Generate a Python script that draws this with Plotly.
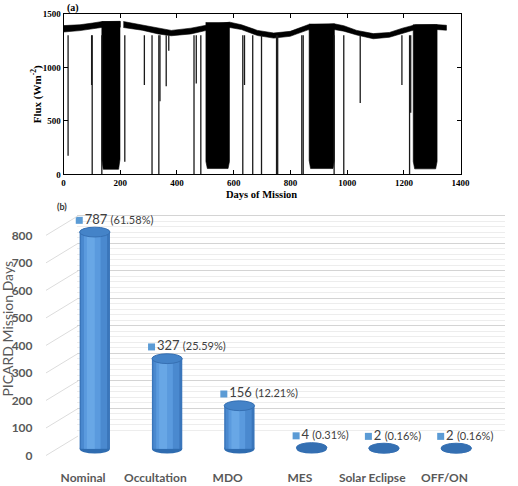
import plotly.graph_objects as go

W, H = 518, 486


def fx(p):
    return p / W


def fy(p):
    return 1 - p / H


# ---------------- Panel (a): flux during the mission ----------------
band1_days = [0, 58, 103, 133, 200]
band1_top = [1390, 1398, 1414, 1427, 1430]
band1_low = [1330, 1343, 1360, 1372, 1375]
band2_days = [211, 277, 334, 380, 449, 512, 586, 627, 684, 741, 799, 862, 914,
              954, 988, 1034, 1092, 1149, 1195, 1241, 1310, 1350]
band2_top = [1428, 1398, 1366, 1345, 1366, 1398, 1422, 1398, 1345, 1321, 1336, 1398,
             1403, 1407, 1389, 1345, 1315, 1326, 1366, 1398, 1400, 1393]
band2_low = [1372, 1347, 1312, 1295, 1312, 1350, 1372, 1353, 1297, 1273, 1290, 1350,
             1352, 1353, 1338, 1302, 1267, 1281, 1320, 1353, 1354, 1347]

season_start = [135, 502, 866, 1233]
season_end = [199, 585, 955, 1317]
season_top = [1430, 1422, 1407, 1400]
season_edge = [140, 120, 130, 120]
season_floor = [48, 55, 55, 52]
season_round = [5, 5, 5, 5]

spike_days = [16, 99, 101, 135, 216, 285, 312, 336, 340, 362, 371, 460, 468, 484,
              632, 638, 667, 698, 751, 755, 840, 845, 954, 988, 1046, 1193, 1220, 1224]
spike_min = [174, 835, 0, 0, 119, 835, 0, 0, 683, 823, 1156, 0, 850, 0,
             0, 835, 0, 0, 0, 0, 0, 0, 0, 0, 668, 835, 0, 576]
spike_top = 1300

# ---------------- Panel (b): mission days per mode ----------------
categories = ["Nominal", "Occultation", "MDO", "MES", "Solar Eclipse", "OFF/ON"]
mission_days = [787, 327, 156, 4, 2, 2]
percent = ["61.58%", "25.59%", "12.21%", "0.31%", "0.16%", "0.16%"]
y_ticks = [0, 100, 200, 300, 400, 500, 600, 700, 800]

fig = go.Figure()

# band (upper envelope) polygons
bx, by = [], []
for d, t, l in [(band1_days, band1_top, band1_low), (band2_days, band2_top, band2_low)]:
    bx += d + d[::-1] + [None]
    by += t + l[::-1] + [None]
fig.add_trace(go.Scatter(x=bx, y=by, mode="lines", fill="toself", fillcolor="black",
                         line=dict(color="black", width=0.6), xaxis="x", yaxis="y",
                         hoverinfo="skip", showlegend=False))

# occultation seasons
sx, sy = [], []
for s, e, t, ed, fl, r in zip(season_start, season_end, season_top, season_edge,
                              season_floor, season_round):
    sx += [s, s, s + r, e - r, e, e, None]
    sy += [t, ed, fl, fl, ed, t, None]
fig.add_trace(go.Scatter(x=sx, y=sy, mode="lines", fill="toself", fillcolor="black",
                         line=dict(color="black", width=0.6), xaxis="x", yaxis="y",
                         hoverinfo="skip", showlegend=False))

# spikes
kx, ky = [], []
for d, m in zip(spike_days, spike_min):
    kx += [d, d, None]
    ky += [spike_top, m, None]
fig.add_trace(go.Scatter(x=kx, y=ky, mode="lines", line=dict(color="#1a1a1a", width=1.3),
                         xaxis="x", yaxis="y", hoverinfo="skip", showlegend=False))

# ---- panel (b) geometry ----
PB_TOP, PB_BOT = 205, 470
PPU = 0.281           # px per mission-day unit
BAR_FLOOR, LABEL_FLOOR, WALL_FLOOR = 453, 460, 440
WALL_MAX = 805
ELL = 5 / PPU         # half height of cylinder ellipse (data units)
BW = 0.42             # cylinder width

# wall gridlines subplot (x2, y2) - invisible helper trace
fig.add_trace(go.Scatter(x=[0], y=[0], mode="markers", marker=dict(opacity=0),
                         xaxis="x2", yaxis="y2", hoverinfo="skip", showlegend=False))

# cylinders (x3, y3)
xs = list(range(len(categories)))
layers = [(-0.21, 0.42, "#3a76bb"), (-0.19, 0.36, "#4a89cf"),
          (-0.15, 0.23, "#5a9ade"), (-0.11, 0.11, "#68a7e6")]
for off, w, c in layers:
    fig.add_trace(go.Bar(x=xs, y=mission_days, base=0, offset=off, width=w,
                         marker=dict(color=c, line=dict(width=0)),
                         xaxis="x3", yaxis="y3", hoverinfo="skip", showlegend=False))

# value labels
fig.add_trace(go.Scatter(
    x=[i - 0.215 for i in xs], y=[v + 12 / PPU for v in mission_days],
    mode="markers+text",
    marker=dict(symbol="square", size=7, color="#5b9bd5"),
    text=[f"{v} <span style='font-size:11px'>({p})</span>" for v, p in zip(mission_days, percent)],
    textposition="middle right",
    textfont=dict(family="Lato", size=13, color="#404040"),
    cliponaxis=False, xaxis="x3", yaxis="y3", hoverinfo="skip", showlegend=False))

shapes = []
for i, v in zip(xs, mission_days):
    shapes.append(dict(type="circle", xref="x3", yref="y3", layer="below",
                       x0=i - BW / 2, x1=i + BW / 2, y0=-ELL, y1=ELL,
                       fillcolor="#2f6cb0", line=dict(width=0)))
    shapes.append(dict(type="circle", xref="x3", yref="y3", layer="above",
                       x0=i - BW / 2, x1=i + BW / 2, y0=v - ELL, y1=v + ELL,
                       fillcolor="#4483c8" if v > 20 else "#346fb2",
                       line=dict(color="#3670b3", width=1)))

# diagonal connectors of the 3D wall (x4, y4)
wall_shift = (LABEL_FLOOR - WALL_FLOOR) / PPU
dx, dy = [], []
for v in y_ticks:
    dx += [0, 1, None]
    dy += [v, v + wall_shift, None]
fig.add_trace(go.Scatter(x=dx, y=dy, mode="lines", line=dict(color="#dcdcdc", width=1),
                         xaxis="x4", yaxis="y4", hoverinfo="skip", showlegend=False))

# category axis helper (x5, y5)
fig.add_trace(go.Scatter(x=[0], y=[0], mode="markers", marker=dict(opacity=0),
                         xaxis="x5", yaxis="y5", hoverinfo="skip", showlegend=False))

serif = dict(family="Liberation Serif", size=9, color="black", weight="bold")
sans = dict(family="Lato", size=12, color="#595959", weight="bold")
hidden = dict(showgrid=False, zeroline=False, showline=False, showticklabels=False, ticks="")

fig.update_layout(
    width=W, height=H, margin=dict(l=0, r=0, t=0, b=0),
    paper_bgcolor="white", plot_bgcolor="rgba(0,0,0,0)",
    barmode="overlay", showlegend=False, shapes=shapes,
    xaxis=dict(domain=[fx(63), fx(469.5)], anchor="y", range=[0, 1400], tick0=0, dtick=200,
               ticks="inside", ticklen=4, tickcolor="black", showline=True, linecolor="black",
               linewidth=1, mirror="ticks", showgrid=False, zeroline=False, tickfont=serif),
    yaxis=dict(domain=[fy(173), fy(9)], anchor="x", range=[0, 1500], tick0=0, dtick=500,
               ticks="inside", ticklen=4, tickcolor="black", showline=True, linecolor="black",
               linewidth=1, mirror="ticks", showgrid=False, zeroline=False, tickfont=serif),
    xaxis2=dict(domain=[fx(77), fx(515)], anchor="y2", range=[0, 1], **hidden),
    yaxis2=dict(domain=[fy(WALL_FLOOR + 2 * PPU), fy(WALL_FLOOR - WALL_MAX * PPU)], anchor="x2",
                range=[-2, WALL_MAX], tick0=0, dtick=100, showgrid=True, gridcolor="#d4d4d4",
                gridwidth=1, zeroline=False, showline=False, showticklabels=False, ticks="",
                minor=dict(dtick=20, showgrid=True, gridcolor="#ededed", gridwidth=1)),
    xaxis3=dict(domain=[fx(58), fx(502)], anchor="y3", range=[-0.5, 5.5], **hidden),
    yaxis3=dict(domain=[fy(PB_BOT), fy(PB_TOP)], anchor="x3",
                range=[-(PB_BOT - BAR_FLOOR) / PPU, (BAR_FLOOR - PB_TOP) / PPU], **hidden),
    xaxis4=dict(domain=[fx(45), fx(78)], anchor="y4", range=[0, 1], **hidden),
    yaxis4=dict(domain=[fy(PB_BOT), fy(PB_TOP)], anchor="x4",
                range=[-(PB_BOT - LABEL_FLOOR) / PPU, (LABEL_FLOOR - PB_TOP) / PPU],
                tickvals=y_ticks, showticklabels=True, ticks="outside", ticklen=10,
                tickcolor="rgba(0,0,0,0)", showgrid=False, zeroline=False, showline=False,
                tickfont=dict(family="Lato", size=12, color="#595959", weight="bold")),
    xaxis5=dict(domain=[fx(46), fx(490)], anchor="y5", range=[-0.5, 5.5],
                tickvals=xs, ticktext=categories, ticks="", showgrid=False, zeroline=False,
                showline=False, tickfont=sans),
    yaxis5=dict(domain=[fy(474), fy(300)], anchor="x5", range=[0, 1], **hidden),
    annotations=[
        dict(text="(a)", x=fx(65), y=fy(3), xref="paper", yref="paper", xanchor="left",
             yanchor="middle", showarrow=False, font=dict(family="Liberation Serif", size=10,
                                                          color="black", weight="bold")),
        dict(text="Flux (Wm<sup>-2</sup>)", x=fx(35), y=fy(91), xref="paper", yref="paper",
             textangle=-90, showarrow=False, xanchor="center", yanchor="middle",
             font=dict(family="Liberation Serif", size=11, color="black", weight="bold")),
        dict(text="Days of Mission", x=fx(266), y=fy(193), xref="paper", yref="paper",
             showarrow=False, xanchor="center", yanchor="middle",
             font=dict(family="Liberation Serif", size=10.5, color="black", weight="bold")),
        dict(text="(b)", x=fx(54), y=fy(206), xref="paper", yref="paper", xanchor="left",
             yanchor="middle", showarrow=False, font=dict(family="Lato", size=9,
                                                          color="#333333", weight="bold")),
        dict(text="PICARD Mission Days", x=fx(5.5), y=fy(330), xref="paper", yref="paper",
             textangle=-90, showarrow=False, xanchor="center", yanchor="middle",
             font=dict(family="Lato", size=14, color="#595959")),
    ],
)

fig.write_html("out.html")
